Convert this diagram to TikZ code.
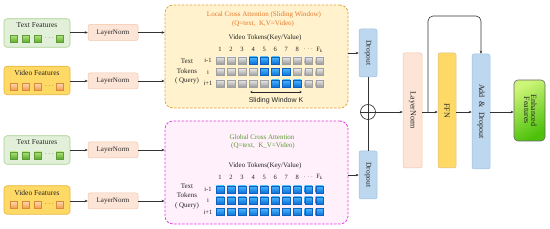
\documentclass[tikz,border=0pt]{standalone}
\usepackage{fontspec}
\setmainfont{Liberation Serif}
\newfontfamily\sansf{Liberation Sans}
\usetikzlibrary{arrows.meta,calc}
\definecolor{tfill}{HTML}{E2F0D9}
\definecolor{tborder}{HTML}{A9D18E}
\definecolor{tsqA}{HTML}{B0E27A}
\definecolor{tsqB}{HTML}{5BAA2A}
\definecolor{tsqD}{HTML}{5E9C3A}
\definecolor{vfill}{HTML}{FFD966}
\definecolor{vborder}{HTML}{E8B53A}
\definecolor{vsqA}{HTML}{FCD6B0}
\definecolor{vsqB}{HTML}{F09A48}
\definecolor{vsqD}{HTML}{D88A3A}
\definecolor{lnfill}{HTML}{FCE4D6}
\definecolor{lnborder}{HTML}{F4C5A8}
\definecolor{lcafill}{HTML}{FFF2CC}
\definecolor{lcaborder}{HTML}{E6A23C}
\definecolor{gcafill}{HTML}{FFF0FB}
\definecolor{gcaborder}{HTML}{E63CE0}
\definecolor{dofill}{HTML}{BDD7EE}
\definecolor{doborder}{HTML}{9DC3E6}
\definecolor{ffnfill}{HTML}{FFD966}
\definecolor{ffnborder}{HTML}{D9C08A}
\definecolor{enhA}{HTML}{CDF577}
\definecolor{enhB}{HTML}{4CC00A}
\definecolor{grA}{HTML}{EAEAEA}
\definecolor{grB}{HTML}{9A9A9A}
\definecolor{grD}{HTML}{A0A0A0}
\definecolor{blA}{HTML}{48B8FF}
\definecolor{blB}{HTML}{0A6FD8}
\definecolor{blD}{HTML}{1060C0}
\definecolor{orangetxt}{HTML}{E5782A}
\definecolor{greentxt}{HTML}{5A9A30}
\definecolor{txt}{HTML}{262626}
\begin{document}
\begin{tikzpicture}[x=1pt,y=-1pt,
  every node/.style={text=txt},
  featbox/.style={rectangle,rounded corners=3pt,minimum width=66pt,minimum height=28.5pt,line width=0.6pt},
  tfeat/.style={featbox,fill=tfill,draw=tborder},
  vfeat/.style={featbox,fill=vfill,draw=vborder},
  ftitle/.style={inner sep=0pt,font=\fontsize{7.5}{8}\selectfont},
  sqbase/.style={rectangle,minimum width=7pt,minimum height=7pt,inner sep=0pt,line width=0.4pt},
  tsq/.style={sqbase,top color=tsqA,bottom color=tsqB,draw=tsqD},
  vsq/.style={sqbase,top color=vsqA,bottom color=vsqB,draw=vsqD},
  gsq/.style={rectangle,minimum width=7.5pt,minimum height=7pt,inner sep=0pt,line width=0.3pt,top color=grA,bottom color=grB,draw=grD},
  bsq/.style={rectangle,minimum width=7.5pt,minimum height=7pt,inner sep=0pt,line width=0.3pt,top color=blA,bottom color=blB,draw=blD},
  lnbox/.style={rectangle,rounded corners=2pt,fill=lnfill,draw=lnborder,line width=0.5pt,minimum width=50pt,minimum height=16pt,inner sep=0pt,font=\fontsize{7}{8}\selectfont},
  arr/.style={-{Stealth[length=3pt,width=2.6pt]},line width=0.6pt,draw=black!80},
  plain/.style={line width=0.6pt,draw=black!80},
  small/.style={inner sep=0pt,font=\fontsize{6.5}{7}\selectfont},
  attn/.style={inner sep=0pt,font=\fontsize{7}{8}\selectfont},
  vbox/.style={rectangle,rounded corners=2pt,inner sep=0pt,line width=0.5pt,font=\fontsize{7.5}{8}\selectfont}
]
\useasboundingbox (0,0) rectangle (550,229);

% ---------- feature boxes ----------
\node[tfeat] (t1) at (37,33) {};
\node[ftitle] (t1t) at (37,25.5) {Text Features};
\node[tsq] (t1s1) at (13.5,39) {};
\node[tsq] (t1s2) at (25.5,39) {};
\node[tsq] (t1s3) at (38,39) {};
\node[small] (t1d) at (49.5,38) {\textbf{$\cdots$}};
\node[tsq] (t1s4) at (59.5,39) {};

\node[vfeat] (v1) at (37,80.5) {};
\node[ftitle] (v1t) at (37,73) {Video Features};
\node[vsq] (v1s1) at (13.5,87) {};
\node[vsq] (v1s2) at (25.5,87) {};
\node[vsq] (v1s3) at (38,87) {};
\node[small] (v1d) at (49.5,86) {\textbf{$\cdots$}};
\node[vsq] (v1s4) at (59.5,87) {};

\node[tfeat] (t2) at (37,150) {};
\node[ftitle] (t2t) at (37,142) {Text Features};
\node[tsq] (t2s1) at (13.5,155.5) {};
\node[tsq] (t2s2) at (25.5,155.5) {};
\node[tsq] (t2s3) at (38,155.5) {};
\node[small] (t2d) at (49.5,154.5) {\textbf{$\cdots$}};
\node[tsq] (t2s4) at (59.5,155.5) {};

\node[vfeat] (v2) at (37,200) {};
\node[ftitle] (v2t) at (37,192.5) {Video Features};
\node[vsq] (v2s1) at (13.5,205) {};
\node[vsq] (v2s2) at (25.5,205) {};
\node[vsq] (v2s3) at (38,205) {};
\node[small] (v2d) at (49.5,204) {\textbf{$\cdots$}};
\node[vsq] (v2s4) at (59.5,205) {};

% ---------- LayerNorms ----------
\node[lnbox] (ln1) at (113,32.5) {LayerNorm};
\node[lnbox] (ln2) at (113,81) {LayerNorm};
\node[lnbox] (ln3) at (113,150) {LayerNorm};
\node[lnbox] (ln4) at (113,201) {LayerNorm};

\draw[arr] (t1.east |- ln1) -- (ln1.west);
\draw[arr] (v1.east |- ln2) -- (ln2.west);
\draw[arr] (t2.east |- ln3) -- (ln3.west);
\draw[arr] (v2.east |- ln4) -- (ln4.west);

% ---------- Local cross attention ----------
\node[rectangle,rounded corners=8pt,fill=lcafill,draw=lcaborder,line width=0.8pt,dash pattern=on 2.5pt off 1.5pt,minimum width=183pt,minimum height=103pt] (lca) at (256.5,56.5) {};
\node[attn,text=orangetxt] (lcat1) at (264,15) {Local Cross Attention (Sliding Window)};
\node[attn,text=orangetxt] (lcat2) at (263,24) {(Q=text,\enspace K,V=Video)};
\node[attn] (lcav) at (265,38) {Video Tokens(Key/Value)};
\node[attn,align=center,font=\fontsize{7}{9.5}\selectfont] (lcaq) at (187,71.5) {Text\\Tokens\\( Query)};
\foreach \c/\lab in {1/1,2/2,3/3,4/4,5/5,6/6,7/7,8/8,9/{$\cdots$},10/{F\textsubscript{k}}}{
  \node[small] (lcn\c) at ({220+11.05*(\c-1)},49.5) {\lab};
}
\node[small] (lr0) at (208,60.5) {i-1};
\node[small] (lr1) at (208,72) {i};
\node[small] (lr2) at (208,83.5) {i+1};
\foreach \c in {1,...,10}{
  \pgfmathtruncatemacro{\bz}{(\c>=4)&&(\c<=6)}
  \pgfmathtruncatemacro{\bo}{(\c>=5)&&(\c<=7)}
  \pgfmathtruncatemacro{\bt}{(\c>=6)&&(\c<=8)}
  \ifnum\bz=1 \node[bsq] (lq0-\c) at ({220+11.05*(\c-1)},60.5) {}; \else \node[gsq] (lq0-\c) at ({220+11.05*(\c-1)},60.5) {}; \fi
  \ifnum\bo=1 \node[bsq] (lq1-\c) at ({220+11.05*(\c-1)},72) {}; \else \node[gsq] (lq1-\c) at ({220+11.05*(\c-1)},72) {}; \fi
  \ifnum\bt=1 \node[bsq] (lq2-\c) at ({220+11.05*(\c-1)},83.5) {}; \else \node[gsq] (lq2-\c) at ({220+11.05*(\c-1)},83.5) {}; \fi
}
\coordinate (swl) at (250,92);
\coordinate (swr) at (302,92);
\draw[{Stealth[length=2.5pt,width=2.3pt]}-{Stealth[length=2.5pt,width=2.3pt]},line width=0.6pt,black!85] (swl) -- (swr);
\node[inner sep=0pt,font=\sansf\fontsize{7}{8}\selectfont] (swt) at (276,101) {Sliding Window K};

% ---------- Global cross attention ----------
\node[rectangle,rounded corners=8pt,fill=gcafill,draw=gcaborder,line width=0.8pt,dash pattern=on 2.5pt off 1.5pt,minimum width=183pt,minimum height=103pt] (gca) at (256.5,172.5) {};
\node[attn,text=greentxt] (gcat1) at (262,137) {Global Cross Attention};
\node[attn,text=greentxt] (gcat2) at (263,145.5) {(Q=text,\enspace K\_V=Video)};
\node[attn] (gcav) at (265,165.5) {Video Tokens(Key/Value)};
\node[attn,align=center,font=\fontsize{7}{9.5}\selectfont] (gcaq) at (187,196) {Text\\Tokens\\( Query)};
\foreach \c/\lab in {1/1,2/2,3/3,4/4,5/5,6/6,7/7,8/8,9/{$\cdots$},10/{F\textsubscript{k}}}{
  \node[small] (gcn\c) at ({220+11.05*(\c-1)},177) {\lab};
}
\node[small] (gr0) at (208,189.5) {i-1};
\node[small] (gr1) at (208,200.5) {i};
\node[small] (gr2) at (208,212) {i+1};
\foreach \c in {1,...,10}{
  \node[bsq] (gq0-\c) at ({220+11.05*(\c-1)},189.5) {};
  \node[bsq] (gq1-\c) at ({220+11.05*(\c-1)},200.5) {};
  \node[bsq] (gq2-\c) at ({220+11.05*(\c-1)},212) {};
}

\draw[arr] (ln1.east) -- (ln1.east -| lca.west);
\draw[arr] (ln2.east) -- (ln2.east -| lca.west);
\draw[arr] (ln3.east) -- (ln3.east -| gca.west);
\draw[arr] (ln4.east) -- (ln4.east -| gca.west);

% ---------- Dropouts and sum ----------
\node[vbox,fill=dofill,draw=doborder,minimum width=18pt,minimum height=48pt] (do1) at (368,53) {\rotatebox{-90}{Dropout}};
\node[vbox,fill=dofill,draw=doborder,minimum width=18pt,minimum height=48pt] (do2) at (368,175) {\rotatebox{-90}{Dropout}};
\draw[arr] (lca.east |- do1) -- (do1.west);
\draw[arr] (gca.east |- do2) -- (do2.west);
\node[circle,draw=black!85,line width=0.6pt,minimum size=15pt,inner sep=0pt] (op) at (368,112) {};
\draw[plain] (do1.south) -- (op.north);
\draw[plain] (op.north) -- (op.south);
\draw[plain] (op.south) -- (do2.north);
\draw[plain] (op.west) -- (op.east);

% ---------- right block ----------
\node[vbox,fill=lnfill,draw=lnborder,minimum width=19pt,minimum height=115pt,font=\fontsize{8}{9}\selectfont] (ln5) at (412.5,110.5) {\rotatebox{-90}{LayerNorm}};
\node[vbox,fill=ffnfill,draw=ffnborder,minimum width=18pt,minimum height=115pt,font=\fontsize{8}{9}\selectfont] (ffn) at (447,110.5) {\rotatebox{-90}{FFN}};
\node[vbox,fill=dofill,draw=doborder,minimum width=18pt,minimum height=115pt,font=\fontsize{8}{9}\selectfont] (add) at (481,111.5) {\rotatebox{-90}{Add\enspace\&\enspace Dropout}};
\node[rectangle,rounded corners=4pt,inner sep=0pt,top color=enhA,bottom color=enhB,shading angle=30,draw=black!60,line width=0.6pt,minimum width=31pt,minimum height=61pt,font=\fontsize{8}{9}\selectfont] (enh) at (529.5,110.5) {\rotatebox{-90}{\begin{tabular}{@{}c@{}}Enhanced\\[-2pt]Features\end{tabular}}};

\draw[arr] (op.east) -- (op.east -| ln5.west);
\draw[arr] (op.east -| ln5.east) -- (op.east -| ffn.west);
\draw[arr] (op.east -| ffn.east) -- (op.east -| add.west);
\draw[arr] (op.east -| add.east) -- (op.east -| enh.west);
\coordinate (sk) at (428,112);
\draw[arr,rounded corners=5pt] (sk) -- (428,16) -| (add.north);
\end{tikzpicture}
\end{document}
